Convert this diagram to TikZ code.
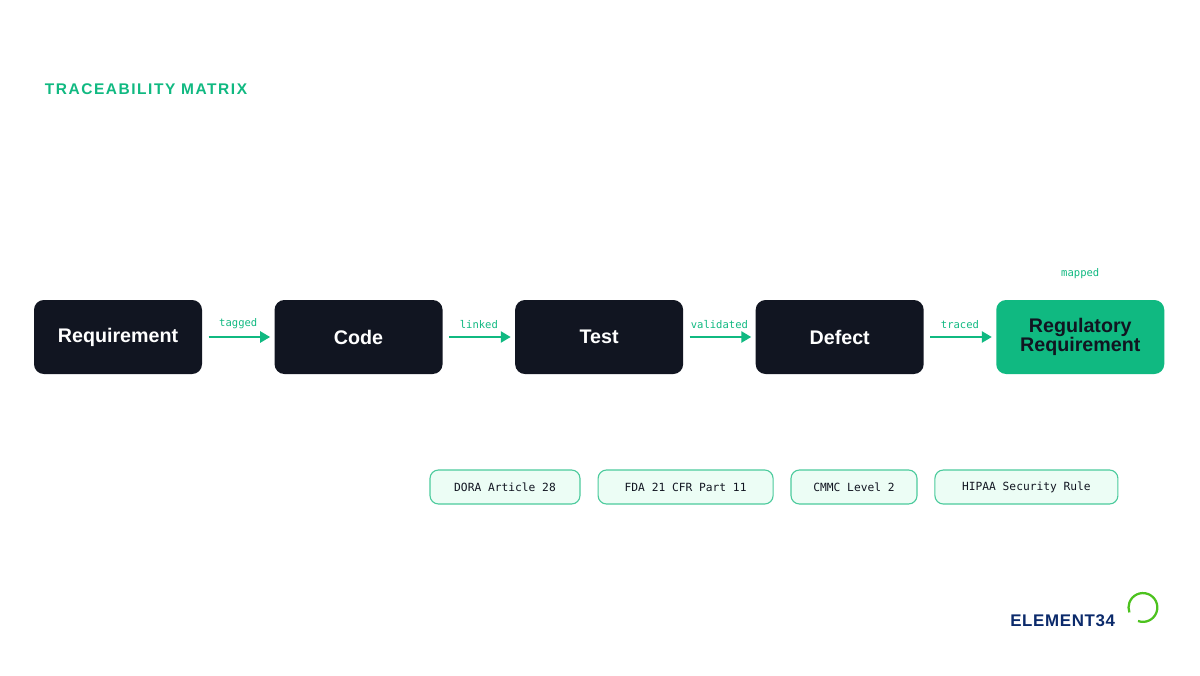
\documentclass[tikz,border=0pt]{standalone}
\usepackage{fontspec}
\setmainfont{Liberation Sans}
\setmonofont{DejaVu Sans Mono}
\usetikzlibrary{positioning,arrows.meta}
\definecolor{ink}{HTML}{111521}
\definecolor{teal}{HTML}{10B981}
\definecolor{tagfill}{HTML}{ECFDF5}
\definecolor{tagline}{HTML}{4CCB9D}
\definecolor{navy}{HTML}{0B2A6B}
\definecolor{lime}{HTML}{4CC21E}
\tikzset{
  stage/.style={rounded corners=7pt, fill=ink, text=white, minimum width=4.2cm,
    minimum height=1.85cm, align=center, font=\bfseries\fontsize{14}{15}\selectfont},
  goal/.style={stage, fill=teal, text=ink},
  link/.style={-{Triangle[length=7pt,width=8pt]}, teal, line width=1.1pt, shorten <=4.5pt, shorten >=3pt},
  linklabel/.style={above=2pt, teal, font=\ttfamily\fontsize{7.5}{8}\selectfont},
  tag/.style={rounded corners=6pt, fill=tagfill, draw=tagline, line width=0.8pt,
    minimum height=0.85cm, font=\ttfamily\fontsize{8}{9}\selectfont, text=ink}
}
\begin{document}
\begin{tikzpicture}
  \useasboundingbox[fill=white] (0,0) rectangle (30,16.875);

  \node[anchor=west, teal, font=\bfseries\fontsize{11}{12}\selectfont\addfontfeatures{LetterSpace=10}]
    (title) at (1,14.65) {TRACEABILITY MATRIX};

  % chain
  \node[stage] (req) at (2.95,8.45) {Requirement};
  \node[stage, right=1.8cm of req] (code) {Code};
  \node[stage, right=1.8cm of code] (test) {Test};
  \node[stage, right=1.8cm of test] (defect) {Defect};
  \node[goal, right=1.8cm of defect] (reg) {Regulatory\\[-2pt]Requirement};

  \draw[link] (req) -- node[linklabel] {tagged} (code);
  \draw[link] (code) -- node[linklabel] {linked} (test);
  \draw[link] (test) -- node[linklabel] {validated} (defect);
  \draw[link] (defect) -- node[linklabel] {traced} (reg);
  \node[above=0.4cm of reg, teal, font=\ttfamily\fontsize{7.5}{8}\selectfont] (mapped) {mapped};

  % regulations
  \node[tag, minimum width=3.75cm] (dora) at (12.625,4.7) {DORA Article 28};
  \node[tag, minimum width=4.375cm] (fda) at (17.14,4.7) {FDA 21 CFR Part 11};
  \node[tag, minimum width=3.15cm] (cmmc) at (21.35,4.7) {CMMC Level 2};
  \node[tag, minimum width=4.575cm] (hipaa) at (25.66,4.7) {HIPAA Security Rule};

  % logo
  \draw[lime, line width=1.6pt] (28.45,1.35) arc (-110:200:0.36);
  \node[anchor=west, navy, inner sep=0, font=\bfseries\fontsize{12}{12}\selectfont\addfontfeatures{LetterSpace=4}]
    (logo) at (25.25,1.35) {ELEMENT34};
\end{tikzpicture}
\end{document}
